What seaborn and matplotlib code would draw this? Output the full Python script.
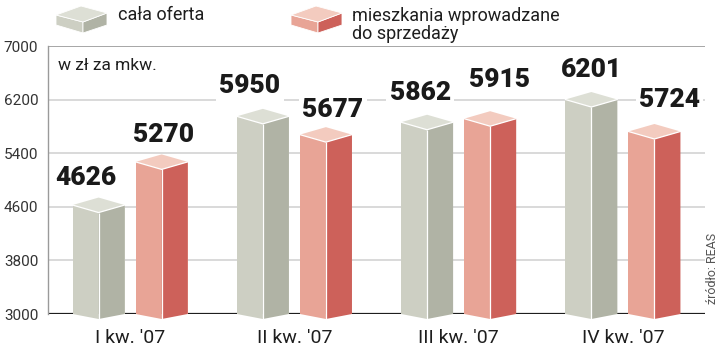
import matplotlib
matplotlib.use('Agg')
import numpy as np
import pandas as pd
import seaborn as sns
import matplotlib.pyplot as plt
from matplotlib.patches import Polygon

# ---- data ----
quarters = ["I kw. '07", "II kw. '07", "III kw. '07", "IV kw. '07"]
series = ["cała oferta", "mieszkania wprowadzane\ndo sprzedaży"]
cala_oferta = [4626, 5950, 5862, 6201]
wprowadzane = [5270, 5677, 5915, 5724]
y_ticks = [3000, 3800, 4600, 5400, 6200, 7000]
unit_note = "w zł za mkw."
source = "źródło: REAS"

# ---- styles ----
front_col = {series[0]: '#cdcfc3', series[1]: '#e8a496'}
side_col = {series[0]: '#b0b3a5', series[1]: '#cd615a'}
top_col = {series[0]: '#dddfd5', series[1]: '#f3cbbf'}
# label nudges in pixels (per series, per quarter)
label_dx_px = {series[0]: [-13, -13, -7, 0], series[1]: [2, 7, 9, 15]}
label_dy_px = {series[0]: [20, 23, 22, 22.5], series[1]: [20, 17.5, 32, 24.5]}

df = pd.DataFrame({
    'kw': quarters * 2,
    'seria': [series[0]] * len(quarters) + [series[1]] * len(quarters),
    'cena': cala_oferta + wprowadzane,
})

sns.set_theme(style='white')
plt.rcParams['font.family'] = ['Roboto', 'DejaVu Sans']

W, H = 720, 350
fig = plt.figure(figsize=(7.2, 3.5), dpi=100)
ax = fig.add_axes([48 / W, 36 / H, 657 / W, 268 / H])

sns.barplot(data=df, x='kw', y='cena', hue='seria', order=quarters,
            hue_order=series, palette=front_col, width=0.768, gap=0.175,
            saturation=1, linewidth=0, edgecolor='none', legend=False,
            ax=ax, zorder=3)

ymin, ymax = 3000, 7000
ax.set_ylim(ymin, ymax)
ax.set_xlim(-0.5, 3.5)
upp = (ymax - ymin) / 268.0  # data units per pixel
dt = 7.5 * upp
db = 5.0 * upp

for s, cont in zip(series, ax.containers):
    for i, rect in enumerate(cont):
        x0 = rect.get_x()
        w = rect.get_width()
        v = rect.get_y() + rect.get_height()
        mid = x0 + w / 2
        x1 = x0 + w
        ax.add_patch(Polygon([(x0, ymin), (mid, ymin - db), (mid, ymin)],
                             closed=True, fc=front_col[s], ec='none',
                             clip_on=False, zorder=3))
        ax.add_patch(Polygon([(mid, v - dt), (x1, v), (x1, ymin), (mid, ymin - db)],
                             closed=True, fc=side_col[s], ec='none',
                             clip_on=False, zorder=4))
        ax.add_patch(Polygon([(x0, v), (mid, v - dt), (x1, v), (mid, v + dt)],
                             closed=True, fc=top_col[s], ec='none',
                             clip_on=False, zorder=5))
        ax.plot([mid, mid], [ymin - db, v - dt], color='white', lw=0.9,
                zorder=6, clip_on=False, solid_capstyle='butt')
        ax.plot([x0, mid, x1], [v, v - dt, v], color='white', lw=0.9,
                zorder=6, clip_on=False)
        ax.annotate(f"{int(round(v))}", (mid, v),
                    xytext=(label_dx_px[s][i] * 0.72, label_dy_px[s][i] * 0.72),
                    textcoords='offset points', ha='center', va='baseline',
                    fontsize=19, fontweight='heavy', color='#1a1a1a',
                    zorder=7,
                    bbox=dict(boxstyle='square,pad=0.12', fc='white', ec='none'))

# grid & axes
ax.set_yticks(y_ticks)
ax.yaxis.grid(True, color='#cfcfcf', lw=1.1)
ax.xaxis.grid(False)
ax.set_axisbelow(True)
ax.axhline(ymin, color='#1e1e1e', lw=1.6, zorder=2)
ax.axhline(ymax, color='#9a9a9a', lw=1.1, zorder=2)
for sp in ['top', 'right', 'bottom']:
    ax.spines[sp].set_visible(False)
ax.spines['left'].set_color('#9a9a9a')
ax.spines['left'].set_linewidth(1.0)
ax.tick_params(axis='y', length=0, pad=7, labelsize=11, labelcolor='#333333')
ax.tick_params(axis='x', length=0, pad=11, labelsize=14, labelcolor='#1e1e1e')
ax.set_xlabel('')
ax.set_ylabel('')

ax.text(10 / 657, (314 - 66) / 268, unit_note, transform=ax.transAxes,
        ha='left', va='center', fontsize=12.5, color='#1e1e1e')

# legend (figure pixel coords)
def fp(x, y):
    return (x / W, 1 - y / H)

def icon(xl, s):
    xm, xr = xl + 27, xl + 51
    top = [fp(xl, 15), fp(xm - 2, 6), fp(xr, 13), fp(xm, 22)]
    frt = [fp(xl, 15), fp(xm, 22), fp(xm, 33), fp(xl, 25)]
    sid = [fp(xm, 22), fp(xr, 13), fp(xr, 25), fp(xm, 33)]
    for pts, c in [(frt, front_col[s]), (sid, side_col[s]), (top, top_col[s])]:
        fig.add_artist(Polygon(pts, closed=True, fc=c, ec='white', lw=0.6,
                               transform=fig.transFigure))

icon(56, series[0])
icon(291, series[1])
fig.text(118 / W, 1 - 15 / H, series[0], ha='left', va='center',
         fontsize=13, color='#1e1e1e')
fig.text(352 / W, 1 - 25 / H, series[1], ha='left', va='center',
         fontsize=13, color='#1e1e1e', linespacing=1.05)

fig.text(712 / W, 1 - 268 / H, source, rotation=90, ha='center', va='center',
         fontsize=9, color='#555555')

fig.savefig('out.png', dpi=100)
